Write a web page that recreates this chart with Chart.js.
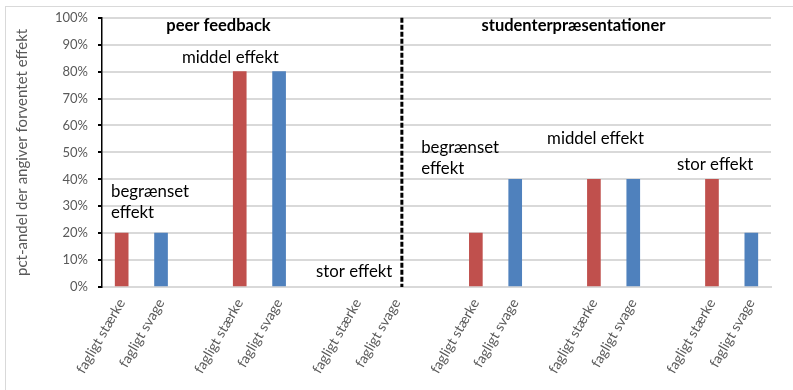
<!DOCTYPE html>
<html>
<head>
<meta charset="utf-8">
<script src="https://cdn.jsdelivr.net/npm/chart.js@4.4.1/dist/chart.umd.min.js"></script>
<style>
  html, body { margin: 0; padding: 0; background: #fff; overflow: hidden; }
  #frame { position: absolute; left: 5px; top: 6px; width: 800px; height: 400px; border: 1px solid #d9d9d9; }
  #chart { position: absolute; left: 0; top: 0; }
</style>
</head>
<body>
<div id="frame"></div>
<canvas id="chart" width="793" height="390"></canvas>
<script>
// data
const groupLabels = ['fagligt stærke', 'fagligt svage'];
const sections = ['peer feedback', 'studenterpræsentationer'];
const effects = ['begrænset effekt', 'middel effekt', 'stor effekt'];
const peerStaerke = [20, 80, 0];
const peerSvage = [20, 80, 0];
const studStaerke = [20, 40, 40];
const studSvage = [40, 40, 20];
const yTitle = 'pct-andel der angiver forventet effekt';

// build the category axis: stærke, svage, gap, ...
const staerke = peerStaerke.concat(studStaerke);
const svage = peerSvage.concat(studSvage);
const labels = [], redData = [], blueData = [];
staerke.forEach((v, i) => {
  if (i > 0) { labels.push(''); redData.push(null); blueData.push(null); }
  labels.push(groupLabels[0]); redData.push(v); blueData.push(null);
  labels.push(groupLabels[1]); redData.push(null); blueData.push(svage[i]);
});

// text placed in axis units (category index, percent)
const dividerAt = 7.12;
const notes = [
  { lines: [sections[0]], x: 2.46, y: 97, bold: true, align: 'center' },
  { lines: ['begrænset', 'effekt'], x: -0.27, y: 35.4, align: 'left' },
  { lines: [effects[1]], x: 1.53, y: 85.2, align: 'left' },
  { lines: [effects[2]], x: 4.94, y: 5.9, align: 'left' },
  { lines: [sections[1]], x: 11.48, y: 97, bold: true, align: 'center' },
  { lines: ['begrænset', 'effekt'], x: 7.61, y: 51.7, align: 'left' },
  { lines: [effects[1]], x: 10.81, y: 55, align: 'left' },
  { lines: [effects[2]], x: 14.11, y: 45.4, align: 'left' }
];

const overlay = {
  id: 'overlay',
  afterDatasetsDraw(chart) {
    const { ctx, chartArea } = chart;
    const x = chart.scales.x, y = chart.scales.y;
    ctx.save();
    const dx = x.getPixelForValue(dividerAt);
    ctx.strokeStyle = '#000';
    ctx.lineWidth = 3;
    ctx.setLineDash([5, 2]);
    ctx.beginPath();
    ctx.moveTo(dx, chartArea.top);
    ctx.lineTo(dx, chartArea.bottom);
    ctx.stroke();
    ctx.setLineDash([]);
    ctx.fillStyle = '#000';
    ctx.textBaseline = 'middle';
    notes.forEach(n => {
      ctx.font = (n.bold ? 'bold 16.5px' : '16.8px') + ' Lato';
      ctx.textAlign = n.align;
      const px = x.getPixelForValue(n.x);
      const py = y.getPixelForValue(n.y);
      n.lines.forEach((t, k) => ctx.fillText(t, px, py + k * 21));
    });
    ctx.restore();
  }
};

const fill = color => c => (c.raw ? color : 'rgba(0,0,0,0)');

new Chart(document.getElementById('chart'), {
  type: 'bar',
  data: {
    labels: labels,
    datasets: [
      { data: redData, backgroundColor: fill('#c0504d'), barThickness: 13, grouped: false },
      { data: blueData, backgroundColor: fill('#4f81bd'), barThickness: 13, grouped: false }
    ]
  },
  options: {
    responsive: false,
    animation: false,
    layout: { padding: { top: 16, right: 22, left: 0, bottom: 0 } },
    plugins: { legend: { display: false }, tooltip: { enabled: false } },
    scales: {
      x: {
        afterFit: s => { s.height = 103; },
        grid: { display: false, tickLength: 8 },
        border: { display: true, color: '#d9d9d9', width: 2 },
        ticks: {
          autoSkip: false, minRotation: 60, maxRotation: 60, padding: 1,
          color: '#595959', font: { family: 'Lato', size: 14 }
        }
      },
      y: {
        min: 0, max: 100,
        afterFit: s => { s.width = 102; },
        grid: { color: '#d9d9d9', lineWidth: 2, tickLength: 4, tickColor: '#000' },
        border: { display: true, color: '#000', width: 1.5 },
        ticks: {
          stepSize: 10, padding: 10, color: '#595959',
          font: { family: 'Lato', size: 13 },
          callback: v => v + '%'
        },
        title: {
          display: true, text: yTitle, color: '#595959',
          font: { family: 'Lato', size: 15 }, padding: { top: 13, bottom: 0 }
        }
      }
    }
  },
  plugins: [overlay]
});
</script>
</body>
</html>
